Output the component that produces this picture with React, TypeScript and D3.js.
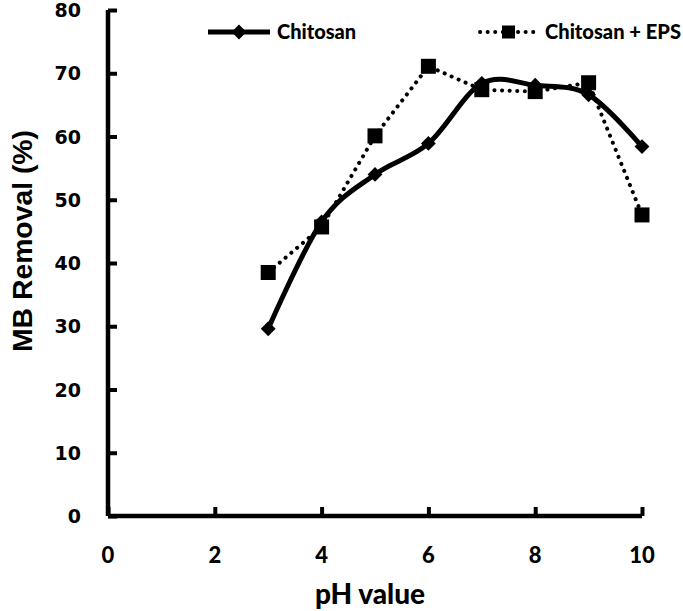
import React, { useEffect, useRef } from 'react';
import * as d3 from 'd3';

const phValues = [3, 4, 5, 6, 7, 8, 9, 10];
const chitosan = [29.6, 46.5, 54, 58.9, 68.4, 68.1, 66.6, 58.4];
const chitosanEps = [38.5, 45.7, 60.1, 71.1, 67.4, 67.1, 68.5, 47.6];
const xTicks = [0, 2, 4, 6, 8, 10];
const yTicks = [0, 10, 20, 30, 40, 50, 60, 70, 80];

const narrow = "Lato, 'Open Sans', sans-serif";
const wide = "'DejaVu Sans', Verdana, sans-serif";

const App = () => {
  const svgRef = useRef<SVGSVGElement>(null);

  useEffect(() => {
    const w = 683;
    const h = 611;
    const svg = d3.select(svgRef.current).attr('width', w).attr('height', h);
    svg.selectAll('*').remove();

    const x = d3.scaleLinear().domain([0, 10]).range([108, 642]);
    const y = d3.scaleLinear().domain([0, 80]).range([516, 10]);

    // axes
    const xAxis = d3.axisBottom(x).tickValues(xTicks).tickSize(-9).tickFormat(() => '');
    const gx = svg.append('g').attr('transform', `translate(0,${y(0)})`).call(xAxis);
    const yAxis = d3.axisLeft(y).tickValues(yTicks).tickSize(-9).tickFormat(() => '');
    const gy = svg.append('g').attr('transform', `translate(${x(0)},0)`).call(yAxis);
    [gx, gy].forEach((g) => {
      g.select('.domain').attr('stroke', '#000').attr('stroke-width', 4.5);
      g.selectAll('.tick line').attr('stroke', '#000').attr('stroke-width', 4);
    });
    gx.select('.domain').attr('d', `M${x(0)},0H${x(10)}`);
    gy.select('.domain').attr('d', `M0,${y(0)}V${y(80)}`);

    svg
      .selectAll('.xlab')
      .data(xTicks)
      .join('text')
      .attr('x', (d) => x(d))
      .attr('y', 563)
      .attr('text-anchor', 'middle')
      .style('font-family', narrow)
      .style('font-weight', 900)
      .style('font-size', '22px')
      .text((d) => d);

    svg
      .selectAll('.ylab')
      .data(yTicks)
      .join('text')
      .attr('x', 81)
      .attr('y', (d) => y(d) + 7)
      .attr('text-anchor', 'end')
      .style('font-family', wide)
      .style('font-weight', 'bold')
      .style('font-size', '19px')
      .text((d) => d);

    svg
      .append('text')
      .attr('x', 370)
      .attr('y', 604)
      .attr('text-anchor', 'middle')
      .style('font-family', narrow)
      .style('font-weight', 900)
      .style('font-size', '28px')
      .text('pH value');

    svg
      .append('text')
      .attr('transform', 'rotate(-90)')
      .attr('x', -241)
      .attr('y', 32)
      .attr('text-anchor', 'middle')
      .attr('textLength', 222)
      .attr('lengthAdjust', 'spacingAndGlyphs')
      .style('font-family', "'Liberation Sans', Arial, sans-serif")
      .style('font-weight', 'bold')
      .style('font-size', '28px')
      .text('MB Removal (%)');

    const pts1 = phValues.map((p, i) => [x(p), y(chitosan[i])] as [number, number]);
    const pts2 = phValues.map((p, i) => [x(p), y(chitosanEps[i])] as [number, number]);

    // Chitosan + EPS dotted
    svg
      .append('path')
      .attr('d', d3.line()(pts2))
      .attr('fill', 'none')
      .attr('stroke', '#000')
      .attr('stroke-width', 4)
      .attr('stroke-linecap', 'round')
      .attr('stroke-dasharray', '0.1 7.5');

    // Chitosan smooth
    svg
      .append('path')
      .attr('d', d3.line().curve(d3.curveCardinal.tension(0))(pts1))
      .attr('fill', 'none')
      .attr('stroke', '#000')
      .attr('stroke-width', 5);

    const diamond = d3.symbol().type(d3.symbolDiamond2).size(140);
    svg
      .selectAll('.dia')
      .data(pts1)
      .join('path')
      .attr('transform', (d) => `translate(${d[0]},${d[1]})`)
      .attr('d', diamond())
      .attr('fill', '#000');

    svg
      .selectAll('.sq')
      .data(pts2)
      .join('rect')
      .attr('x', (d) => d[0] - 7.5)
      .attr('y', (d) => d[1] - 7.5)
      .attr('width', 15)
      .attr('height', 15)
      .attr('fill', '#000');

    // legend
    const ly = 32;
    svg.append('line').attr('x1', 208).attr('x2', 270).attr('y1', ly).attr('y2', ly)
      .attr('stroke', '#000').attr('stroke-width', 5);
    svg.append('path').attr('transform', `translate(239,${ly})`).attr('d', diamond()).attr('fill', '#000');
    svg.append('text').attr('x', 277).attr('y', ly + 7)
      .style('font-family', narrow).style('font-weight', 900).style('font-size', '20px')
      .text('Chitosan');

    svg.append('line').attr('x1', 480).attr('x2', 540).attr('y1', ly).attr('y2', ly)
      .attr('stroke', '#000').attr('stroke-width', 4).attr('stroke-linecap', 'round')
      .attr('stroke-dasharray', '0.1 7.5');
    svg.append('rect').attr('x', 502).attr('y', ly - 6.5).attr('width', 13).attr('height', 13).attr('fill', '#000');
    svg.append('text').attr('x', 545).attr('y', ly + 7)
      .attr('textLength', 136).attr('lengthAdjust', 'spacingAndGlyphs')
      .style('font-family', narrow).style('font-weight', 900).style('font-size', '20px')
      .text('Chitosan + EPS');
  }, []);

  return <svg ref={svgRef} style={{ position: 'absolute', left: 0, top: 0, display: 'block' }}></svg>;
};

export default App;
